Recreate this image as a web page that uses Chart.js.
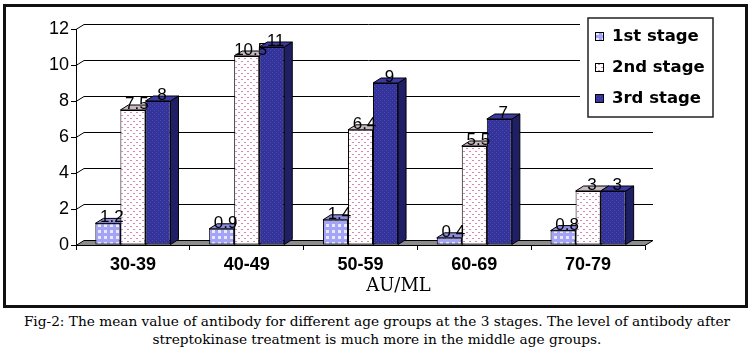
<!DOCTYPE html>
<html>
<head>
<meta charset="utf-8">
<script src="https://cdn.jsdelivr.net/npm/chart.js@4.4.0/dist/chart.umd.min.js"></script>
<style>
  body { margin: 0; background: #fff; width: 754px; height: 351px; position: relative; overflow: hidden; }
  #box { position: absolute; left: 3px; top: 4px; width: 739px; height: 298px; border: 3px solid #111; }
  #chart { position: absolute; left: 0; top: 0; }
  #caption { position: absolute; left: 0; top: 312px; width: 754px; text-align: center;
    font-family: "DejaVu Serif", serif; font-size: 13.7px; line-height: 18px; color: #000; }
</style>
</head>
<body>
<div id="box"></div>
<canvas id="chart" width="754" height="310"></canvas>
<div id="caption">Fig-2: The mean value of antibody for different age groups at the 3 stages. The level of antibody after<br>streptokinase treatment is much more in the middle age groups.</div>
<script>
const ageGroups = ["30-39", "40-49", "50-59", "60-69", "70-79"];
const stage1 = [1.2, 0.9, 1.4, 0.4, 0.8];
const stage2 = [7.5, 10.5, 6.4, 5.5, 3];
const stage3 = [8, 11, 9, 7, 3];
const seriesNames = ["1st stage", "2nd stage", "3rd stage"];
const yTicks = [0, 2, 4, 6, 8, 10, 12];
const axisTitle = "AU/ML";

// 3D look
const depth = { dx: 8, dy: -5 };
const topColors = ["#8c8ce0", "#c8b8c2", "#3a3aa2"];
const sideColors = ["#7272c4", "#a8a8a8", "#1f1f66"];

// small fill patterns like the old office chart
function makePattern(size, bg, draw) {
  const c = document.createElement("canvas");
  c.width = size; c.height = size;
  const g = c.getContext("2d");
  g.fillStyle = bg;
  g.fillRect(0, 0, size, size);
  draw(g);
  return g.createPattern(c, "repeat");
}
const ctx = document.getElementById("chart").getContext("2d");
const fill1 = makePattern(6, "#a4a4f6", g => { g.fillStyle = "#e8e8ff"; g.fillRect(2, 2, 3, 3); });
const fill2 = makePattern(6, "#ffffff", g => {
  g.fillStyle = "#d488b4"; g.fillRect(1, 1, 2, 1); g.fillRect(4, 4, 2, 1);
});
const fill3 = makePattern(4, "#333399", g => {
  g.fillStyle = "#4a4ab4"; g.fillRect(0, 0, 1, 1); g.fillRect(2, 2, 1, 1);
});
const fills = [fill1, fill2, fill3];

function poly(c, pts, color) {
  c.beginPath();
  c.moveTo(pts[0][0], pts[0][1]);
  for (let i = 1; i < pts.length; i++) c.lineTo(pts[i][0], pts[i][1]);
  c.closePath();
  c.fillStyle = color;
  c.fill();
  c.stroke();
}

const threeD = {
  id: "threeD",
  beforeDatasetsDraw(chart) {
    const { ctx, chartArea: a, scales: { y } } = chart;
    const { dx, dy } = depth;
    ctx.save();
    ctx.strokeStyle = "#000";
    ctx.lineWidth = 1;
    // back wall grid lines
    yTicks.forEach(v => {
      if (v === 0) return;
      const py = Math.round(y.getPixelForValue(v)) + 0.5;
      ctx.beginPath();
      ctx.moveTo(a.left, py);
      ctx.lineTo(a.left + dx, py + dy);
      ctx.lineTo(a.right + dx, py + dy);
      ctx.stroke();
    });
    // floor
    const b = Math.round(y.getPixelForValue(0)) + 0.5;
    poly(ctx, [[a.left, b], [a.left + dx, b + dy], [a.right + dx, b + dy], [a.right, b]], "#8c8c8c");
    // bar tops and sides
    chart.data.datasets.forEach((ds, i) => {
      chart.getDatasetMeta(i).data.forEach(bar => {
        const { x, y: top, base, width } = bar.getProps(["x", "y", "base", "width"], true);
        const l = x - width / 2, r = x + width / 2;
        poly(ctx, [[r, top], [r + dx, top + dy], [r + dx, base + dy], [r, base]], sideColors[i]);
        poly(ctx, [[l, top], [r, top], [r + dx, top + dy], [l + dx, top + dy]], topColors[i]);
      });
    });
    ctx.restore();
  },
  afterDatasetsDraw(chart) {
    const { ctx } = chart;
    ctx.save();
    ctx.font = "17px Arial, 'Liberation Sans'";
    ctx.fillStyle = "#000";
    ctx.textAlign = "center";
    ctx.textBaseline = "alphabetic";
    chart.data.datasets.forEach((ds, i) => {
      chart.getDatasetMeta(i).data.forEach((bar, j) => {
        ctx.fillText(String(ds.data[j]), bar.x + depth.dx / 2, bar.y - 1);
      });
    });
    ctx.restore();
  },
  afterDraw(chart) {
    const { ctx, chartArea: a } = chart;
    ctx.save();
    // axis unit under the category labels (sits right of centre in the original)
    ctx.font = "18px 'DejaVu Serif'";
    ctx.fillStyle = "#000";
    ctx.textAlign = "center";
    ctx.textBaseline = "middle";
    ctx.fillText(axisTitle, (a.left + a.right) / 2 + 38, 286);
    // legend box in the top right corner
    ctx.textAlign = "left";
    ctx.fillStyle = "#fff";
    ctx.fillRect(580, 10, 145, 112);
    ctx.strokeStyle = "#222";
    ctx.lineWidth = 1.5;
    ctx.strokeRect(588, 18, 125, 99);
    ctx.lineWidth = 1;
    ctx.font = "bold 16.5px 'DejaVu Sans'";
    chart.data.datasets.forEach((ds, i) => {
      const cy = 36.5 + i * 31;
      ctx.fillStyle = ds.backgroundColor;
      ctx.fillRect(595, cy - 4.5, 9, 9);
      ctx.strokeStyle = "#000";
      ctx.strokeRect(595.5, cy - 4, 8, 8);
      ctx.fillStyle = "#000";
      ctx.fillText(ds.label, 612, cy + 0.5);
    });
    ctx.restore();
  }
};

new Chart(ctx, {
  type: "bar",
  data: {
    labels: ageGroups,
    datasets: [stage1, stage2, stage3].map((values, i) => ({
      label: seriesNames[i],
      data: values,
      backgroundColor: fills[i],
      borderColor: "#000",
      borderWidth: 1,
      borderSkipped: false,
      categoryPercentage: 0.66,
      barPercentage: 1
    }))
  },
  options: {
    responsive: false,
    animation: false,
    layout: { padding: { left: 0, top: 29, right: 109, bottom: 0 } },
    plugins: { legend: { display: false }, tooltip: { enabled: false } },
    scales: {
      x: {
        afterFit(scale) { scale.height = 65; },
        grid: { drawOnChartArea: false, drawTicks: true, tickLength: 5, color: "#000", offset: true },
        border: { display: true, color: "#000", width: 1 },
        ticks: { color: "#000", padding: 4, font: { family: "Arial", size: 18, weight: "bold" } }
      },
      y: {
        min: 0,
        max: 12,
        afterFit(scale) { scale.width = 76; },
        afterBuildTicks(scale) { scale.ticks = yTicks.map(v => ({ value: v })); },
        grid: { drawOnChartArea: false, drawTicks: true, tickLength: 5, color: "#000" },
        border: { display: true, color: "#000", width: 1 },
        ticks: { color: "#000", padding: 2, font: { family: "Arial", size: 18 } }
      }
    }
  },
  plugins: [threeD]
});
</script>
</body>
</html>
